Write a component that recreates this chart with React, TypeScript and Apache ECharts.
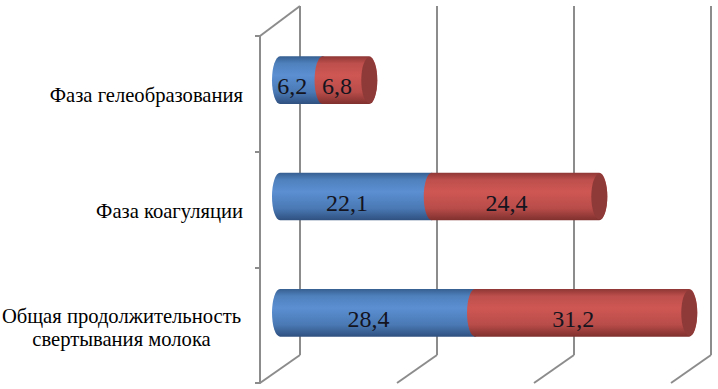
import React, { useEffect, useRef } from "react";
import * as echarts from "echarts";

const categories = [
  "Фаза гелеобразования",
  "Фаза коагуляции",
  "Общая продолжительность\nсвертывания молока",
];
const blueValues = [6.2, 22.1, 28.4];
const redValues = [6.8, 24.4, 31.2];
const gridTicks = [0, 20, 40, 60];

const SERIF = "'Liberation Serif', 'Times New Roman', serif";

const bluePalette = { stops: ["#365f91", "#4f81bd", "#5b8fd2", "#4a79b4", "#2f5080"], cap: "#3f6797" };
const redPalette = { stops: ["#8f3735", "#bd4f4c", "#cf5753", "#b84c49", "#7f302e"], cap: "#8e3a38" };

const fmt = (v: number) => v.toFixed(1).replace(".", ",");

function cylinder(palette: typeof bluePalette, showCap: boolean) {
  return (params: any, api: any) => {
    const start = api.value(0);
    const idx = api.value(1);
    const end = api.value(2);
    const [x0, cy] = api.coord([start, idx]);
    const [x1] = api.coord([end, idx]);
    const h = api.size([0, 1])[1] * 0.41;
    const ry = h / 2;
    const rx = 8;
    const top = cy - ry;
    const bottom = cy + ry;
    const d = `M ${x0} ${top} L ${x1} ${top} A ${rx} ${ry} 0 0 1 ${x1} ${bottom} L ${x0} ${bottom} A ${rx} ${ry} 0 0 1 ${x0} ${top} Z`;
    const gradient = new echarts.graphic.LinearGradient(0, 0, 0, 1, [
      { offset: 0, color: palette.stops[0] },
      { offset: 0.15, color: palette.stops[1] },
      { offset: 0.4, color: palette.stops[2] },
      { offset: 0.75, color: palette.stops[3] },
      { offset: 1, color: palette.stops[4] },
    ]);
    const children: any[] = [
      { type: "path", shape: { pathData: d }, style: { fill: gradient } },
    ];
    if (showCap) {
      children.push({
        type: "ellipse",
        shape: { cx: x1, cy, rx, ry: ry - 1 },
        style: { fill: palette.cap },
      });
    }
    return { type: "group", children };
  };
}

function labelItem(params: any, api: any) {
  const start = api.value(0);
  const idx = api.value(1);
  const end = api.value(2);
  const [x0, cy] = api.coord([start, idx]);
  const [x1] = api.coord([end, idx]);
  return {
    type: "text",
    style: {
      text: fmt(end - start),
      x: (x0 + x1) / 2 - 9,
      y: cy + 6,
      align: "center",
      verticalAlign: "middle",
      fontFamily: SERIF,
      fontSize: 24,
      fill: "#14141e",
    },
  };
}

function wallDiagonals(params: any, api: any) {
  const [x] = api.coord([api.value(0), 0]);
  const cs = params.coordSys;
  const lineStyle = { stroke: "#8c8c8c", lineWidth: 2 };
  const children: any[] = [
    {
      type: "line",
      shape: { x1: x, y1: cs.y + cs.height, x2: x - 40, y2: cs.y + cs.height + 28 },
      style: lineStyle,
    },
  ];
  if (api.value(0) === 0) {
    children.push({
      type: "line",
      shape: { x1: x, y1: cs.y, x2: x - 40, y2: cs.y + 30 },
      style: lineStyle,
    });
  }
  return { type: "group", children };
}

export default function App() {
  const ref = useRef<HTMLDivElement>(null);
  useEffect(() => {
    document.body.style.margin = "0";
    const chart = echarts.init(ref.current!, undefined, { renderer: "svg" });
    const blueData = categories.map((_, i) => [0, i, blueValues[i]]);
    const redData = categories.map((_, i) => [blueValues[i], i, blueValues[i] + redValues[i]]);
    const xBase = { type: "value" as const, min: 0, max: 60, interval: 20 };
    const hiddenY = {
      type: "category" as const,
      inverse: true,
      data: categories,
      axisLine: { show: false },
      axisTick: { show: false },
      axisLabel: { show: false },
      splitLine: { show: false },
    };
    const hiddenX = {
      ...xBase,
      axisLine: { show: false },
      axisTick: { show: false },
      axisLabel: { show: false },
      splitLine: { show: false },
    };
    const richLine = {
      width: 243,
      align: "center",
      fontFamily: SERIF,
      fontSize: 20.6,
      color: "#000000",
      lineHeight: 25,
    };
    chart.setOption({
      animation: false,
      backgroundColor: "#ffffff",
      grid: [
        { left: 300, top: 6, width: 411, height: 349, outerBoundsMode: "none" },
        { left: 260, top: 36, width: 411, height: 347, outerBoundsMode: "none" },
        { left: 280, top: 22, width: 412, height: 349, outerBoundsMode: "none" },
      ],
      xAxis: [
        {
          ...hiddenX,
          gridIndex: 0,
          splitLine: { show: true, lineStyle: { color: "#8c8c8c", width: 2 } },
        },
        { ...hiddenX, gridIndex: 1 },
        { ...hiddenX, gridIndex: 2 },
      ],
      yAxis: [
        { ...hiddenY, gridIndex: 0 },
        {
          type: "category",
          gridIndex: 1,
          inverse: true,
          data: categories,
          axisLine: { show: true, lineStyle: { color: "#8c8c8c", width: 2 } },
          axisTick: { show: true, length: 5, lineStyle: { color: "#8c8c8c", width: 2 } },
          axisLabel: {
            margin: 17,
            padding: [2, 0, 0, 0],
            fontFamily: SERIF,
            fontSize: 20.6,
            color: "#000000",
            lineHeight: 25,
            formatter: (v: string) =>
              v.includes("\n")
                ? v.split("\n").map((l, i) => `{${i === 0 ? "a" : "c"}|${l}}`).join("\n")
                : v,
            rich: {
              a: { ...richLine, padding: [5, 0, 0, 0] },
              c: richLine,
            },
          },
        },
        { ...hiddenY, gridIndex: 2 },
      ],
      series: [
        {
          type: "custom",
          name: "walls",
          xAxisIndex: 0,
          yAxisIndex: 0,
          z: 1,
          silent: true,
          clip: false,
          data: gridTicks.map((v) => [v]),
          encode: { x: 0 },
          renderItem: wallDiagonals,
        },
        {
          type: "custom",
          name: "blue",
          xAxisIndex: 2,
          yAxisIndex: 2,
          z: 3,
          data: blueData,
          encode: { x: [0, 2], y: 1 },
          renderItem: cylinder(bluePalette, false),
        },
        {
          type: "custom",
          name: "red",
          xAxisIndex: 2,
          yAxisIndex: 2,
          z: 4,
          data: redData,
          encode: { x: [0, 2], y: 1 },
          renderItem: cylinder(redPalette, true),
        },
        {
          type: "custom",
          name: "blueLabels",
          xAxisIndex: 2,
          yAxisIndex: 2,
          z: 5,
          data: blueData,
          encode: { x: [0, 2], y: 1 },
          renderItem: labelItem,
        },
        {
          type: "custom",
          name: "redLabels",
          xAxisIndex: 2,
          yAxisIndex: 2,
          z: 5,
          data: redData,
          encode: { x: [0, 2], y: 1 },
          renderItem: labelItem,
        },
      ],
    });
    return () => chart.dispose();
  }, []);
  return <div ref={ref} style={{ width: 718, height: 389 }} />;
}
